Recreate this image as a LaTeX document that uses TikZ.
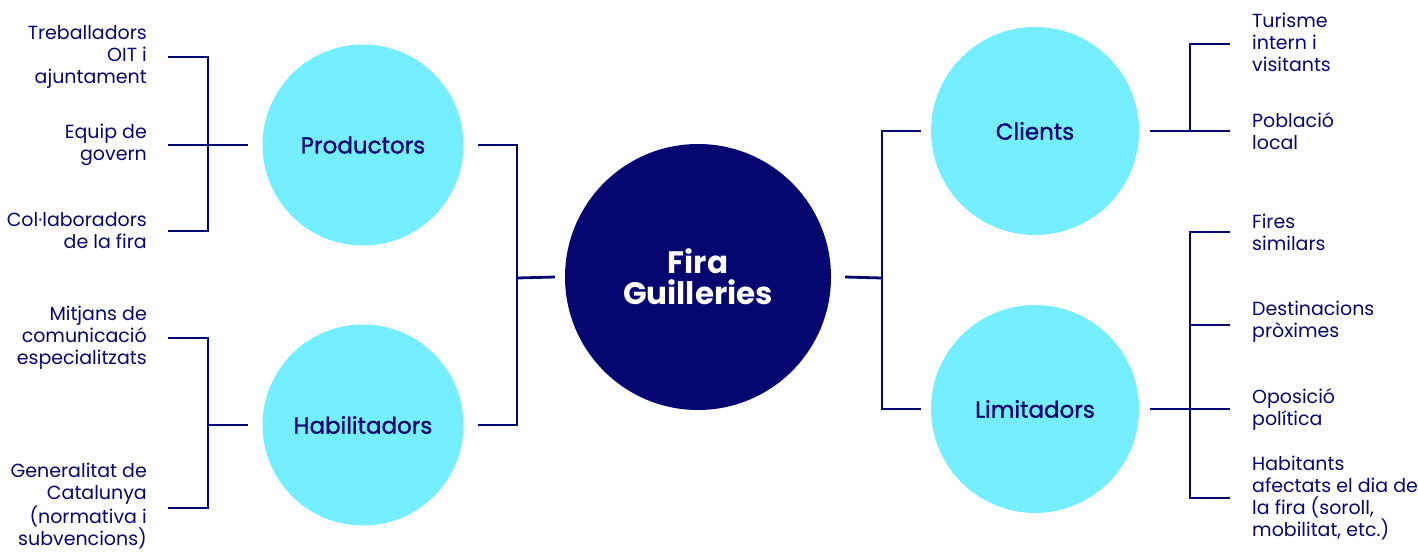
\documentclass[tikz,border=0pt]{standalone}
\usepackage{fontspec}
\setmainfont{Poppins}
\newfontfamily\medfont[FakeBold=1.2]{Poppins}
\usepackage{tikz}
\usetikzlibrary{positioning, calc}
\definecolor{navy}{RGB}{6,6,112}
\definecolor{sky}{RGB}{117,238,255}
\tikzset{%
	hub/.style={circle, fill=navy, minimum size=266pt, inner sep=0pt, text=white,%
		align=center, font=\bfseries\fontsize{31}{31}\selectfont},
	grp/.style={circle, fill=sky, minimum size=201pt, inner sep=0pt, text=navy,%
		font=\medfont\fontsize{23}{26}\selectfont},
	leafl/.style={inner sep=0pt, align=right, text=navy, font=\fontsize{19}{22}\selectfont},
	leafr/.style={inner sep=0pt, align=left, text=navy, font=\fontsize{19}{22}\selectfont},
	link/.style={draw=navy, line width=2.8pt}
}
\begin{document}
\begin{tikzpicture}[x=1pt, y=-1pt]
	\useasboundingbox (0,0) rectangle (1418,552);
	\node[hub] (fira) at (698,277) {Fira\\Guilleries};
	\node[grp] (prod) at (363,145) {Productors};
	\node[grp] (habi) at (363,425) {Habilitadors};
	\node[grp, minimum size=208pt] (clie) at (1035,131) {Clients};
	\node[grp, minimum size=208pt] (limi) at (1035,409) {Limitadors};

	% joints
	\coordinate (jl) at (517,278);
	\coordinate (jr) at (882,278);
	\coordinate (jp) at (208,145);
	\coordinate (jh) at (208,425);
	\coordinate (jc) at (1190,131);
	\coordinate (jm) at (1190,409);

	% stub ends of the leaves
	\coordinate (p1) at (168,57);
	\coordinate (p2) at (168,145);
	\coordinate (p3) at (168,231);
	\coordinate (h1) at (168,338);
	\coordinate (h2) at (168,508);
	\coordinate (c1) at (1230,44);
	\coordinate (c2) at (1230,131);
	\coordinate (m1) at (1230,232);
	\coordinate (m2) at (1230,325);
	\coordinate (m3) at (1230,409);
	\coordinate (m4) at (1230,498);

	\node[leafl, left=21pt of p1] (tp1) {Treballadors\\OIT i\\ajuntament};
	\node[leafl, left=21pt of p2] (tp2) {Equip de\\govern};
	\node[leafl, left=21pt of p3] (tp3) {Col·laboradors\\de la fira};
	\node[leafl, left=21pt of h1] (th1) {Mitjans de\\comunicació\\especialitzats};
	\node[leafl, left=21pt of h2, yshift=2pt] (th2) {Generalitat de\\Catalunya\\(normativa i\\subvencions)};
	\node[leafr, right=22pt of c1, yshift=2pt] (tc1) {Turisme\\intern i\\visitants};
	\node[leafr, right=22pt of c2] (tc2) {Població\\local};
	\node[leafr, right=22pt of m1] (tm1) {Fires\\similars};
	\node[leafr, right=22pt of m2, yshift=3pt] (tm2) {Destinacions\\pròximes};
	\node[leafr, right=22pt of m3] (tm3) {Oposició\\política};
	\node[leafr, right=22pt of m4] (tm4) {Habitants\\afectats el dia de\\la fira (soroll,\\mobilitat, etc.)};

	\draw[link] ([xshift=-10pt]fira.west) -- (jl);
	\draw[link] ([xshift=14pt]prod.east) -| (jl) |- ([xshift=14pt]habi.east);
	\draw[link] ([xshift=14pt]fira.east) -- (jr);
	\draw[link] ([xshift=-10pt]clie.west) -| (jr) |- ([xshift=-10pt]limi.west);

	\draw[link] ([xshift=-14pt]prod.west) -- (p2);
	\draw[link] (p1) -| (jp) |- (p3);
	\draw[link] ([xshift=-14pt]habi.west) -- (jh);
	\draw[link] (h1) -| (jh) |- (h2);

	\draw[link] ([xshift=11pt]clie.east) -- (c2);
	\draw[link] (c1) -| (jc);
	\draw[link] ([xshift=11pt]limi.east) -- (m3);
	\draw[link] (m1) -| (jm) |- (m4);
	\draw[link] (m2) -- (m2 -| jm);
\end{tikzpicture}
\end{document}
